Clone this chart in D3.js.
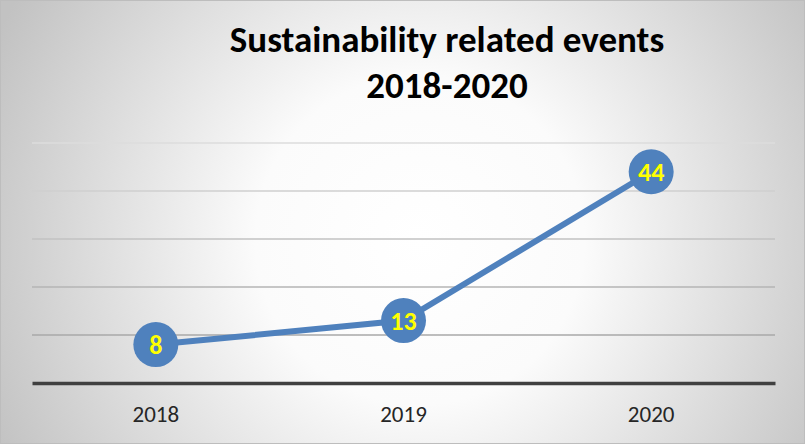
<!DOCTYPE html>
<html>
<head>
<meta charset="utf-8">
<script src="https://cdn.jsdelivr.net/npm/d3@7"></script>
<style>
  html, body { margin: 0; padding: 0; background: #fff; }
  svg { display: block; }
</style>
</head>
<body>
<svg id="chart" width="805" height="444"></svg>
<script>
// chart data
const years = ["2018", "2019", "2020"];
const events = [8, 13, 44];
const yTicks = [0, 10, 20, 30, 40, 50];
const titleLines = ["Sustainability related events", "2018-2020"];

const W = 805, H = 444;
const margin = { top: 143, right: 30, bottom: 61, left: 32 };
const font = "Carlito, Lato, 'Open Sans', sans-serif";

const svg = d3.select("#chart");

// background radial gradient
const defs = svg.append("defs");
const grad = defs.append("radialGradient")
    .attr("id", "bg")
    .attr("gradientUnits", "userSpaceOnUse")
    .attr("cx", 420).attr("cy", 240).attr("r", 470);
grad.append("stop").attr("offset", "0%").attr("stop-color", "#ffffff");
grad.append("stop").attr("offset", "35%").attr("stop-color", "#fbfbfb");
grad.append("stop").attr("offset", "100%").attr("stop-color", "#c2c2c2");

svg.append("rect")
    .attr("width", W).attr("height", H)
    .attr("fill", "url(#bg)");
svg.append("rect")
    .attr("x", 0.5).attr("y", 0.5)
    .attr("width", W - 1).attr("height", H - 1)
    .attr("fill", "none")
    .attr("stroke", "#bdbdbd");

const x = d3.scaleBand()
    .domain(years)
    .range([margin.left, W - margin.right]);

const y = d3.scaleLinear()
    .domain([0, 50])
    .range([H - margin.bottom, margin.top]);

// gridlines (lighter toward the top)
const gridColor = d3.scaleLinear().domain([10, 50]).range(["#a8a8a8", "#dcdcdc"]);
svg.append("g")
    .selectAll("line")
    .data(yTicks.filter(d => d > 0))
    .enter()
    .append("line")
    .attr("x1", margin.left)
    .attr("x2", W - margin.right)
    .attr("y1", d => y(d))
    .attr("y2", d => y(d))
    .attr("stroke", d => gridColor(d))
    .attr("stroke-width", 1.5);

// baseline axis
const xAxis = svg.append("g")
    .attr("transform", `translate(0,${y(0)})`)
    .call(d3.axisBottom(x).tickSize(0).tickPadding(23));
xAxis.select(".domain")
    .attr("stroke", "#404040")
    .attr("stroke-width", 3.5);
xAxis.selectAll("text")
    .attr("font-family", font)
    .style("font-size", "23px")
    .attr("fill", "#262626");

// line
const cx = d => x(d) + x.bandwidth() / 2;
const line = d3.line()
    .x((d, i) => cx(years[i]))
    .y(d => y(d));

svg.append("path")
    .datum(events)
    .attr("d", line)
    .attr("fill", "none")
    .attr("stroke", "#4f81bd")
    .attr("stroke-width", 6);

// markers + labels
const pts = svg.append("g")
    .selectAll("g")
    .data(events)
    .enter()
    .append("g")
    .attr("transform", (d, i) => `translate(${cx(years[i])},${y(d)})`);

pts.append("circle")
    .attr("r", 22.5)
    .attr("fill", "#4f81bd");

pts.append("text")
    .text(d => d)
    .attr("text-anchor", "middle")
    .attr("dy", "0.36em")
    .attr("font-family", font)
    .attr("font-weight", "bold")
    .attr("font-size", 26)
    .attr("fill", "#ffff00");

// title
svg.append("text")
    .attr("text-anchor", "middle")
    .attr("font-family", font)
    .attr("font-weight", "bold")
    .attr("font-size", 37)
    .attr("fill", "#000")
    .selectAll("tspan")
    .data(titleLines)
    .enter()
    .append("tspan")
    .attr("x", 447)
    .attr("y", (d, i) => 52 + i * 46)
    .text(d => d);
</script>
</body>
</html>
